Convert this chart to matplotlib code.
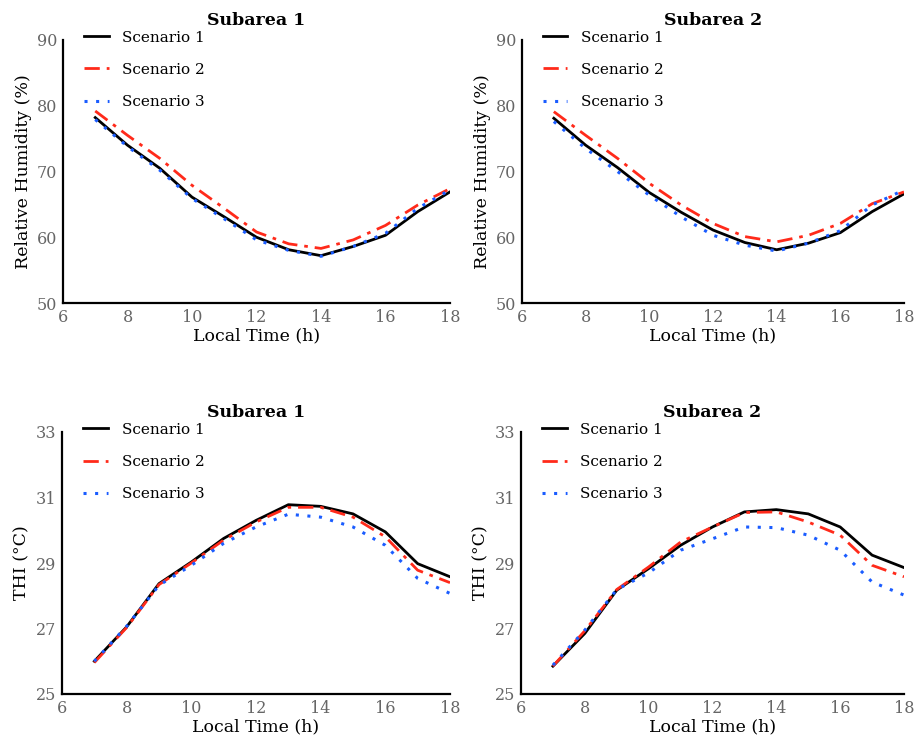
import matplotlib
matplotlib.use("Agg")
import matplotlib.pyplot as plt

plt.rcParams['font.family'] = ['DejaVu Serif']

hours = [7, 8, 9, 10, 11, 12, 13, 14, 15, 16, 17, 18]
scenarios = ["Scenario 1", "Scenario 2", "Scenario 3"]
titles = ["Subarea 1", "Subarea 2"]

# Relative Humidity (%)
rh_sub1_s1 = [78.2, 74.0, 70.5, 66.1, 63.1, 60.0, 58.1, 57.2, 58.6, 60.3, 63.9, 66.9]
rh_sub1_s2 = [79.2, 75.5, 72.0, 67.9, 64.4, 60.8, 59.0, 58.3, 59.6, 61.8, 64.9, 67.4]
rh_sub1_s3 = [77.9, 73.8, 70.2, 65.9, 62.8, 59.6, 58.0, 57.1, 58.6, 60.6, 64.4, 67.2]
rh_sub2_s1 = [78.1, 74.0, 70.6, 66.8, 63.8, 61.1, 59.2, 58.1, 59.1, 60.7, 63.9, 66.6]
rh_sub2_s2 = [79.1, 75.5, 72.0, 68.2, 64.9, 62.1, 60.1, 59.3, 60.3, 62.1, 65.1, 66.9]
rh_sub2_s3 = [77.6, 73.5, 70.0, 66.4, 63.1, 60.3, 58.8, 57.9, 59.1, 61.0, 64.9, 67.2]

# THI (°C)
thi_sub1_s1 = [26.0, 27.05, 28.37, 29.03, 29.75, 30.3, 30.78, 30.73, 30.5, 29.95, 28.98, 28.58]
thi_sub1_s2 = [25.96, 27.03, 28.34, 29.0, 29.7, 30.25, 30.7, 30.7, 30.4, 29.8, 28.78, 28.4]
thi_sub1_s3 = [26.0, 27.07, 28.32, 28.93, 29.6, 30.1, 30.49, 30.4, 30.1, 29.54, 28.53, 28.07]
thi_sub2_s1 = [25.85, 26.85, 28.17, 28.83, 29.54, 30.1, 30.56, 30.63, 30.5, 30.1, 29.24, 28.86]
thi_sub2_s2 = [25.85, 26.93, 28.19, 28.88, 29.64, 30.1, 30.54, 30.56, 30.25, 29.85, 28.93, 28.58]
thi_sub2_s3 = [25.88, 26.95, 28.19, 28.7, 29.39, 29.74, 30.1, 30.08, 29.85, 29.39, 28.42, 28.02]

x_ticks = [6, 8, 10, 12, 14, 16, 18]
rh_ticks = [50, 60, 70, 80, 90]
thi_ticks = [25, 27, 29, 31, 33]

W, H = 914, 741
fig = plt.figure(figsize=(W / 100, H / 100), dpi=100)

def px_axes(left, top, right, bottom):
    return fig.add_axes([left / W, 1 - bottom / H, (right - left) / W, (bottom - top) / H])

styles = [
    dict(color="black", lw=2.0, linestyle="-"),
    dict(color="#ff2a1a", lw=2.0, linestyle=(0, (5.5, 2.5, 1.3, 2.5))),
    dict(color="#1a5cff", lw=2.2, linestyle=(0, (1, 2.8))),
]

panels = [
    (px_axes(63, 40, 450, 303), titles[0], [rh_sub1_s1, rh_sub1_s2, rh_sub1_s3], rh_ticks, "Relative Humidity (%)"),
    (px_axes(522, 40, 904, 303), titles[1], [rh_sub2_s1, rh_sub2_s2, rh_sub2_s3], rh_ticks, "Relative Humidity (%)"),
    (px_axes(62, 432, 450, 694), titles[0], [thi_sub1_s1, thi_sub1_s2, thi_sub1_s3], thi_ticks, "THI (°C)"),
    (px_axes(521, 432, 904, 694), titles[1], [thi_sub2_s1, thi_sub2_s2, thi_sub2_s3], thi_ticks, "THI (°C)"),
]

for ax, title, series, yt, ylabel in panels:
    for vals, name, st in zip(series, scenarios, styles):
        ax.plot(hours, vals, label=name, **st)
    ax.set_xlim(6, 18)
    ax.set_ylim(yt[0], yt[-1])
    ax.set_xticks(x_ticks)
    ax.set_yticks(yt)
    ax.tick_params(length=0, labelsize=11.5, labelcolor="#666666", pad=4)
    for s in ("top", "right"):
        ax.spines[s].set_visible(False)
    for s in ("left", "bottom"):
        ax.spines[s].set_linewidth(1.6)
        ax.spines[s].set_color("black")
    ax.set_xlabel("Local Time (h)", fontsize=12.5, labelpad=1)
    ax.set_ylabel(ylabel, fontsize=12.5, labelpad=4)
    ax.set_title(title, fontsize=12.5, fontweight="bold", pad=11)
    ax.legend(loc="upper left", bbox_to_anchor=(0.055, 1.035), frameon=False,
              fontsize=11, handlelength=1.6, handletextpad=0.9, labelspacing=1.18,
              borderaxespad=0, borderpad=0)

fig.savefig("out.png", dpi=100, facecolor="white")
